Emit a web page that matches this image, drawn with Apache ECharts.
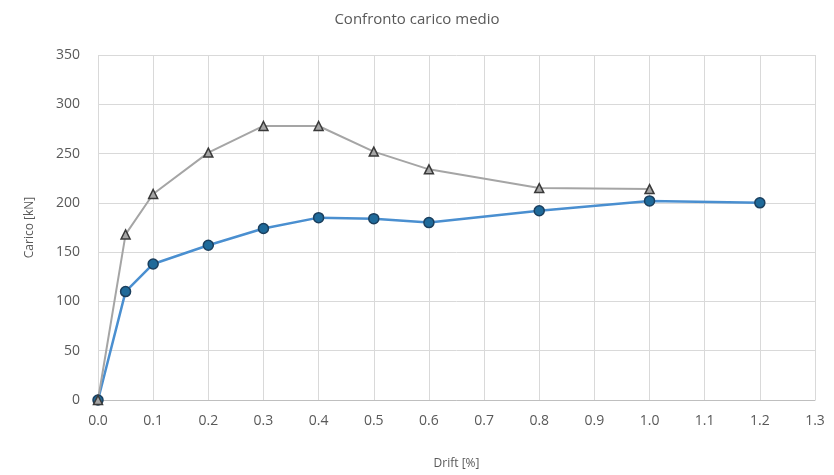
<!DOCTYPE html>
<html><head><meta charset="utf-8">
<script src="https://cdn.jsdelivr.net/npm/echarts@6/dist/echarts.min.js"></script>
<style>html,body{margin:0;padding:0;background:#fff}#c{width:834px;height:475px}</style>
</head><body><div id="c"></div>
<script>
const driftGray = [0, 0.05, 0.1, 0.2, 0.3, 0.4, 0.5, 0.6, 0.8, 1.0];
const caricoGray = [0, 168, 209, 251, 278, 278, 252, 234, 215, 214];
const driftBlue = [0, 0.05, 0.1, 0.2, 0.3, 0.4, 0.5, 0.6, 0.8, 1.0, 1.2];
const caricoBlue = [0, 110, 138, 157, 174, 185, 184, 180, 192, 202, 200];
const titleText = 'Confronto carico medio';
const xName = 'Drift [%]';
const yName = 'Carico [kN]';

const font = 'Open Sans';
const chart = echarts.init(document.getElementById('c'));
chart.setOption({
  animation: false,
  title: { text: titleText, left: 'center', top: 7,
    textStyle: { fontFamily: font, fontSize: 15, fontWeight: 'normal', color: '#595959' } },
  grid: { left: 98, right: 19, top: 55, bottom: 75, containLabel: false, outerBoundsMode: 'none' },
  xAxis: {
    type: 'value', min: 0, max: 1.3, interval: 0.1,
    name: xName, nameLocation: 'middle', nameGap: 58,
    nameTextStyle: { fontFamily: font, fontSize: 12, color: '#595959' },
    axisLine: { show: true, lineStyle: { color: '#bfbfbf' } },
    axisTick: { show: false },
    axisLabel: { fontFamily: font, fontSize: 14, color: '#595959', margin: 14,
      formatter: v => v.toFixed(1) },
    splitLine: { show: true, lineStyle: { color: '#d9d9d9' } }
  },
  yAxis: {
    type: 'value', min: 0, max: 350, interval: 50,
    name: yName, nameLocation: 'middle', nameGap: 62,
    nameTextStyle: { fontFamily: font, fontSize: 12, color: '#595959' },
    axisLine: { show: false }, axisTick: { show: false },
    axisLabel: { fontFamily: font, fontSize: 14, color: '#595959', margin: 18 },
    splitLine: { show: true, lineStyle: { color: '#d9d9d9' } }
  },
  series: [
    {
      type: 'line', data: driftBlue.map((x, i) => [x, caricoBlue[i]]),
      symbol: 'circle', symbolSize: 10,
      lineStyle: { color: '#4a8fd0', width: 2.5 },
      itemStyle: { color: '#1f6a9a', borderColor: '#1b3f5e', borderWidth: 1.5 }
    },
    {
      type: 'line', data: driftGray.map((x, i) => [x, caricoGray[i]]),
      symbol: 'triangle', symbolSize: 9,
      lineStyle: { color: '#a5a5a5', width: 2 },
      itemStyle: { color: '#a5a5a5', borderColor: '#3a3a3a', borderWidth: 1.5 }
    }
  ]
});
</script></body></html>
